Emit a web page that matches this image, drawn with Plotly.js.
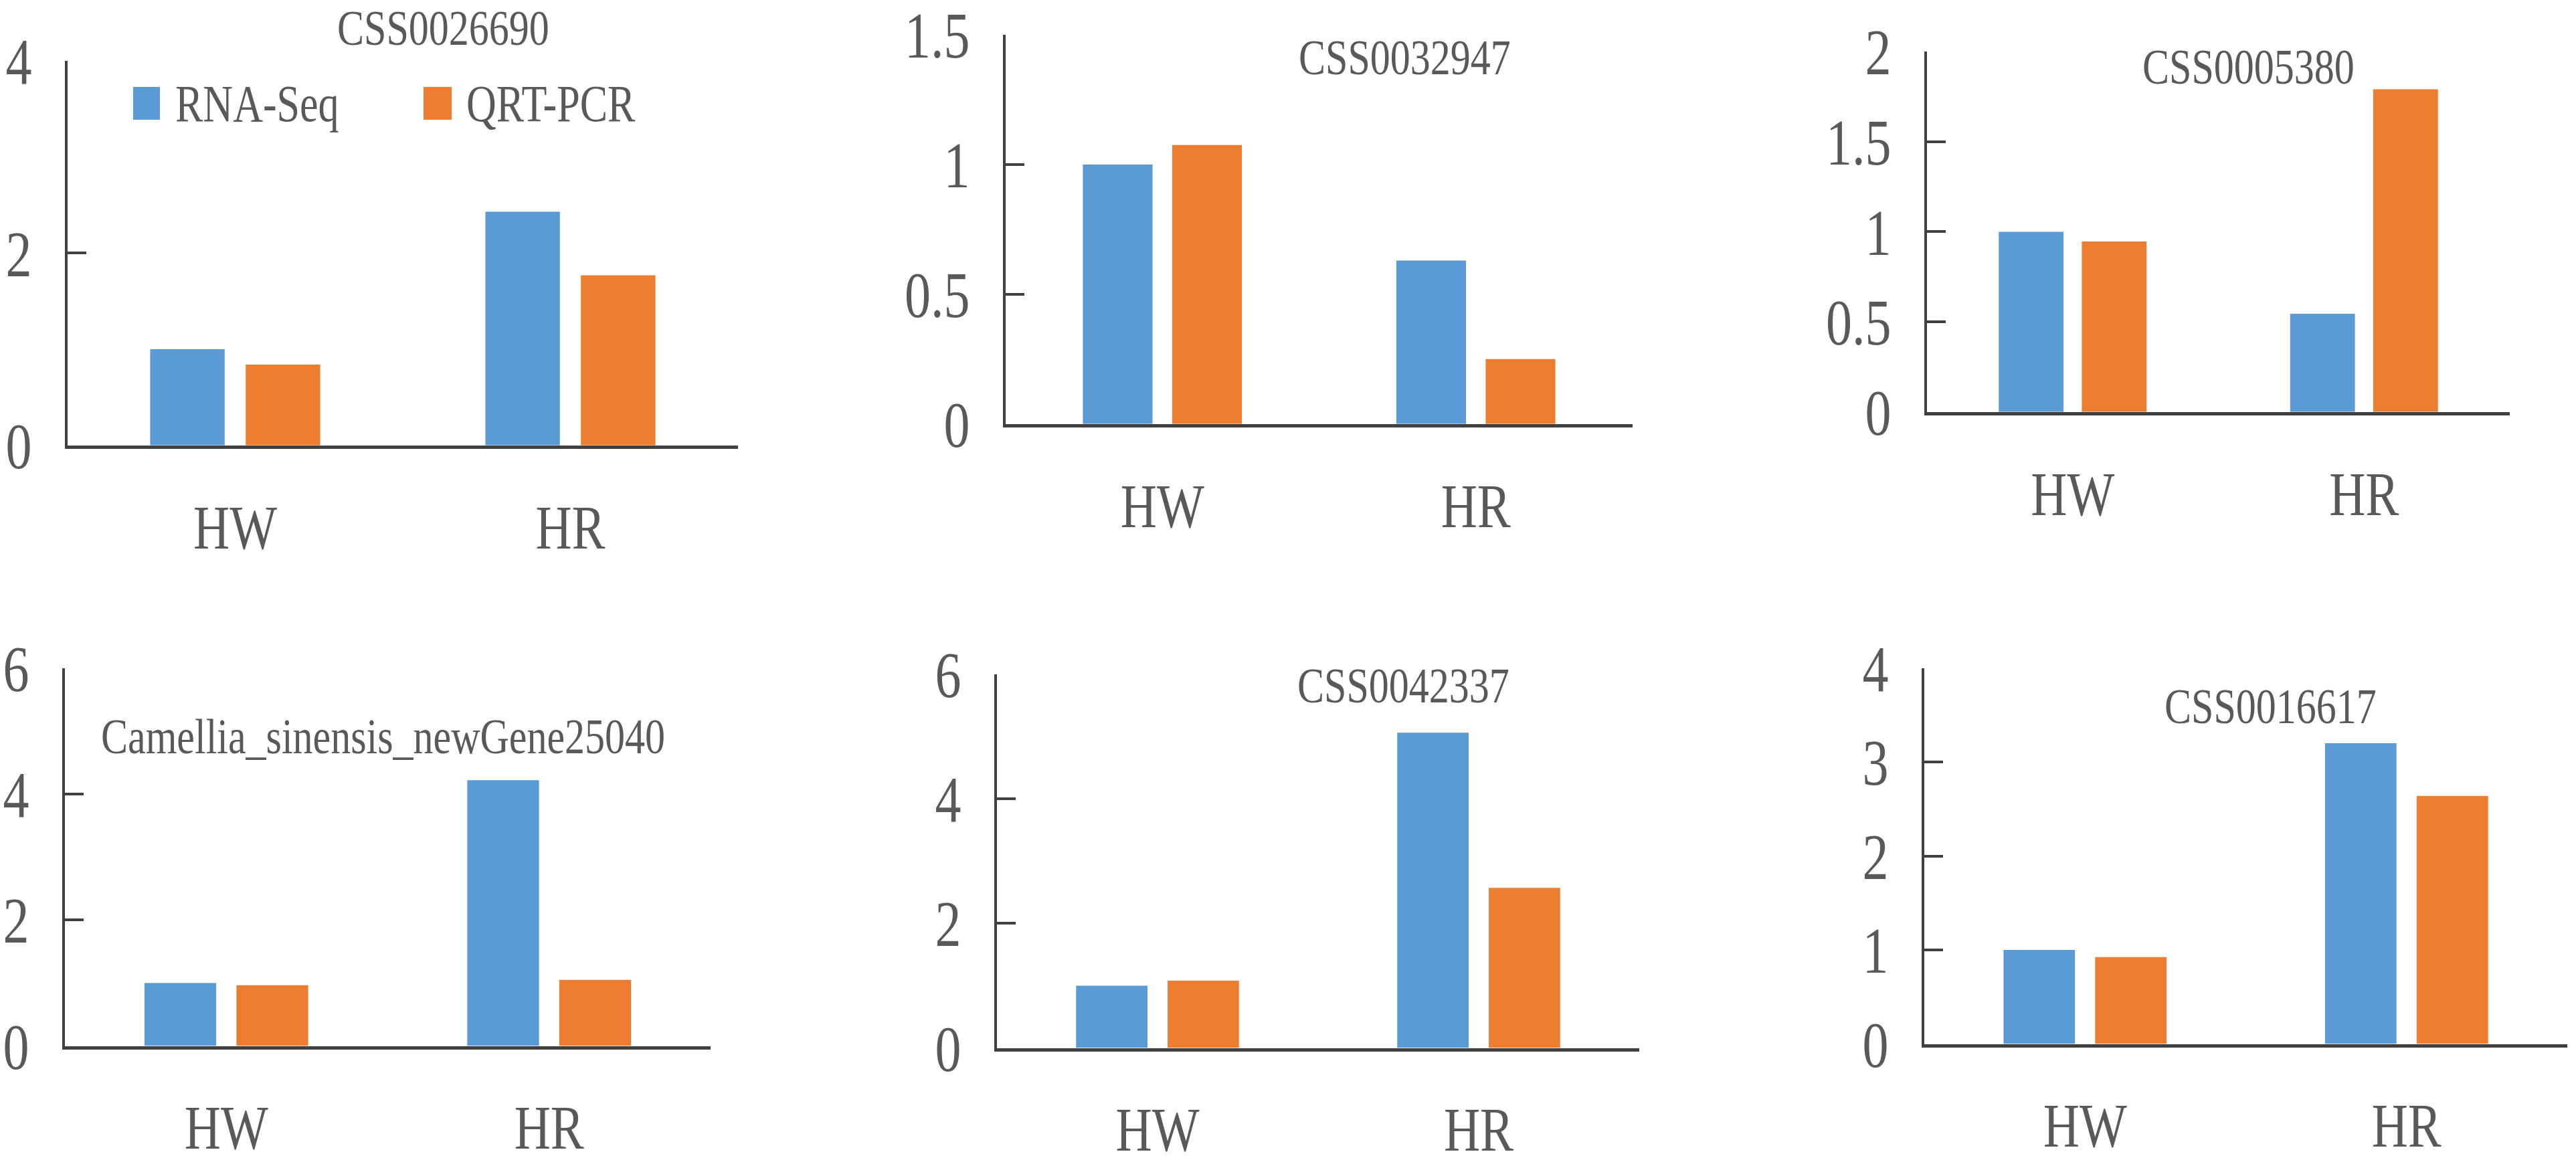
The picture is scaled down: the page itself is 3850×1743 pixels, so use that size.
<!DOCTYPE html>
<html>
<head>
<meta charset="utf-8">
<script src="https://cdn.plot.ly/plotly-3.0.1.min.js"></script>
<style>
  html, body { margin: 0; padding: 0; background: #ffffff; width: 3850px; height: 1743px; }
  #chart { width: 3850px; transform-origin: 0 0; }
</style>
</head>
<body>
<div id="chart"></div>
<script>
// ---- data ----
const categories = ["HW", "HR"];
const seriesNames = ["RNA-Seq", "QRT-PCR"];
const geneTitles = [
  "CSS0026690",
  "CSS0032947",
  "CSS0005380",
  "Camellia_sinensis_newGene25040",
  "CSS0042337",
  "CSS0016617"
];
const rnaSeq = [
  [1.0, 2.43],
  [1.0, 0.63],
  [1.0, 0.545],
  [1.0, 4.22],
  [1.0, 5.06],
  [1.0, 3.2]
];
const qrtPcr = [
  [0.84, 1.77],
  [1.075, 0.25],
  [0.946, 1.79],
  [0.965, 1.05],
  [1.08, 2.57],
  [0.925, 2.64]
];
const yMax = [4, 1.5, 2, 6, 6, 4];
const yStep = [2, 0.5, 0.5, 2, 2, 1];

// ---- layout geometry (final picture pixels) ----
const W = 3850, H = 1743;
const S = 1.25;               // vertical stretch of the original figure
const LH = H / S;             // layout height before stretching
const panels = [
  {x0: 101,  x1: 1103, yZero: 666,  yTop: 91,   tx: 662,  ty: 43},
  {x0: 1503, x1: 2440, yZero: 634,  yTop: 52,   tx: 2099, ty: 86},
  {x0: 2880, x1: 3751, yZero: 616,  yTop: 77,   tx: 3360, ty: 100},
  {x0: 97,   x1: 1062, yZero: 1564, yTop: 999,  tx: 572,  ty: 1101},
  {x0: 1490, x1: 2450, yZero: 1567, yTop: 1008, tx: 2097, ty: 1025},
  {x0: 2876, x1: 3837, yZero: 1561, yTop: 999,  tx: 3393, ty: 1057}
];
const colors = ["#5B9BD5", "#ED7D31"];
const textColor = "#595959";
const axisColor = "#404040";
const fontFamily = "'Liberation Serif', 'Times New Roman', serif";

const px = v => v / W;
const py = v => (H - v) / H;

const chartDiv = document.getElementById("chart");
chartDiv.style.height = LH + "px";
chartDiv.style.transform = "scaleY(" + S + ")";

const traces = [];
const layout = {
  width: W, height: LH,
  margin: {l: 0, r: 0, t: 0, b: 0},
  paper_bgcolor: "#ffffff",
  plot_bgcolor: "#ffffff",
  barmode: "group",
  bargap: 0.43,
  bargroupgap: 0.22,
  showlegend: false,
  font: {family: fontFamily, color: textColor},
  annotations: [],
  shapes: []
};

panels.forEach((p, i) => {
  const n = i === 0 ? "" : String(i + 1);
  const xa = "x" + n, ya = "y" + n;
  traces.push({
    type: "bar", x: categories, y: rnaSeq[i], name: seriesNames[0],
    marker: {color: colors[0]}, xaxis: xa, yaxis: ya
  });
  traces.push({
    type: "bar", x: categories, y: qrtPcr[i], name: seriesNames[1],
    marker: {color: colors[1]}, xaxis: xa, yaxis: ya
  });
  layout["xaxis" + n] = {
    domain: [px(p.x0), px(p.x1)],
    anchor: ya,
    type: "category",
    range: [-0.5, 1.5],
    showline: true, linewidth: 4, linecolor: axisColor,
    showgrid: false, zeroline: false,
    ticks: "",
    ticklabelstandoff: 29,
    ticklabeloverflow: "allow",
    tickfont: {family: fontFamily, size: 75, color: textColor},
    fixedrange: true
  };
  layout["yaxis" + n] = {
    domain: [py(p.yZero), py(p.yTop)],
    anchor: xa,
    range: [0, yMax[i]],
    dtick: yStep[i], tick0: 0,
    showline: true, linewidth: 4, linecolor: axisColor,
    showgrid: false, zeroline: false,
    ticks: "inside", ticklen: 28, tickwidth: 3.2, tickcolor: axisColor,
    ticklabelstandoff: 34,
    ticklabeloverflow: "allow",
    tickfont: {family: fontFamily, size: 78, color: textColor},
    fixedrange: true
  };
  layout.annotations.push({
    text: geneTitles[i],
    xref: "paper", yref: "paper",
    x: px(p.tx), y: py(p.ty),
    xanchor: "center", yanchor: "middle",
    showarrow: false,
    font: {family: fontFamily, size: 60, color: textColor}
  });
});

// legend (drawn in the first panel)
const legendItems = [
  {sx0: 199, sx1: 239, tx: 260},
  {sx0: 633, sx1: 675, tx: 695}
];
legendItems.forEach((it, k) => {
  layout.shapes.push({
    type: "rect", xref: "paper", yref: "paper",
    x0: px(it.sx0), x1: px(it.sx1), y0: py(179), y1: py(130),
    fillcolor: colors[k], line: {width: 0}
  });
  layout.annotations.push({
    text: seriesNames[k],
    xref: "paper", yref: "paper",
    x: px(it.tx), y: py(155),
    xanchor: "left", yanchor: "middle",
    showarrow: false,
    font: {family: fontFamily, size: 62, color: textColor}
  });
});

Plotly.newPlot(chartDiv, traces, layout, {displayModeBar: false, staticPlot: true});
</script>
</body>
</html>
